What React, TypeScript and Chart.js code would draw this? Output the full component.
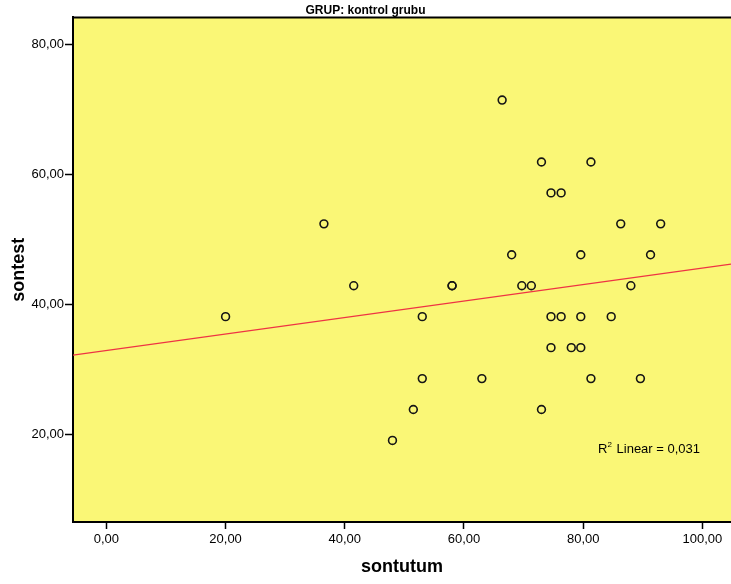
import { useEffect, useRef } from "react";
import { Chart, registerables } from "chart.js";

Chart.register(...registerables);

// Scores per student (kontrol grubu)
const sontutum = [
  20, 36.5, 41.5, 48, 51.5, 53, 53, 58, 58, 63, 66.4, 68, 69.7, 71.3, 73, 73,
  74.6, 76.3, 74.6, 76.3, 74.6, 78, 79.6, 79.6, 79.6, 81.3, 81.3, 84.7, 86.3,
  88, 89.6, 91.3, 93,
];
const sontest = [
  38.1, 52.38, 42.86, 19.05, 23.81, 38.1, 28.57, 42.86, 42.86, 28.57, 71.43,
  47.62, 42.86, 42.86, 61.9, 23.81, 57.14, 57.14, 38.1, 38.1, 33.33, 33.33,
  47.62, 38.1, 33.33, 61.9, 28.57, 38.1, 52.38, 42.86, 28.57, 47.62, 52.38,
];

const xTicks = [0, 20, 40, 60, 80, 100];
const yTicks = [20, 40, 60, 80];
const xRange = [-5.6, 104.8];
const yRange = [6.5, 84.15];

const groupTitle = "GRUP: kontrol grubu";
const xTitle = "sontutum";
const yTitle = "sontest";

const FONT = "Arial, 'Liberation Sans', sans-serif";
const PLOT_BG = "#FAF776";
const FIT_COLOR = "#ee3344";

const fmt = (v: number) => v.toFixed(2).replace(".", ",");

// Ordinary least squares fit of sontest on sontutum
function linearFit(xs: number[], ys: number[]) {
  const n = xs.length;
  const mx = xs.reduce((a, b) => a + b, 0) / n;
  const my = ys.reduce((a, b) => a + b, 0) / n;
  let sxx = 0, sxy = 0, syy = 0;
  for (let i = 0; i < n; i++) {
    const dx = xs[i] - mx;
    const dy = ys[i] - my;
    sxx += dx * dx;
    sxy += dx * dy;
    syy += dy * dy;
  }
  const slope = sxy / sxx;
  return { slope, intercept: my - slope * mx, r2: (sxy * sxy) / (sxx * syy) };
}

export default function App() {
  const ref = useRef<HTMLCanvasElement | null>(null);

  useEffect(() => {
    document.body.style.margin = "0";
    const canvas = ref.current;
    if (!canvas) return;

    const fit = linearFit(sontutum, sontest);
    const fitLine = xRange.map((x) => ({ x, y: fit.intercept + fit.slope * x }));
    const r2Text = fit.r2.toFixed(3).replace(".", ",");

    const plotDecor = {
      id: "plotDecor",
      beforeDraw(chart: any) {
        const { ctx, chartArea: a } = chart;
        ctx.save();
        ctx.fillStyle = PLOT_BG;
        ctx.fillRect(a.left, a.top, a.right - a.left, a.bottom - a.top);
        ctx.restore();
      },
      afterDraw(chart: any) {
        const { ctx, chartArea: a, scales } = chart;
        ctx.save();
        // top frame line
        ctx.strokeStyle = "#000";
        ctx.lineWidth = 2;
        ctx.beginPath();
        ctx.moveTo(a.left, a.top);
        ctx.lineTo(a.right, a.top);
        ctx.stroke();

        // R² annotation
        const x0 = scales.x.getPixelForValue(82.5);
        const y0 = scales.y.getPixelForValue(17.7);
        ctx.fillStyle = "#000";
        ctx.textBaseline = "middle";
        ctx.textAlign = "left";
        ctx.font = `13px ${FONT}`;
        ctx.fillText("R", x0, y0);
        const rw = ctx.measureText("R").width;
        ctx.font = `8px ${FONT}`;
        ctx.fillText("2", x0 + rw, y0 - 4);
        const sw = ctx.measureText("2").width;
        ctx.font = `13px ${FONT}`;
        ctx.fillText(` Linear = ${r2Text}`, x0 + rw + sw + 1, y0);
        ctx.restore();
      },
    };

    const chart = new Chart(canvas, {
      type: "scatter",
      data: {
        datasets: [
          {
            type: "line",
            label: "fit",
            data: fitLine,
            borderColor: FIT_COLOR,
            borderWidth: 1.2,
            pointRadius: 0,
            fill: false,
            order: 0,
          } as any,
          {
            label: "sontest",
            data: sontutum.map((x, i) => ({ x, y: sontest[i] })),
            pointStyle: "circle",
            pointRadius: 3.9,
            pointBorderWidth: 1.6,
            borderColor: "#151515",
            backgroundColor: "rgba(0,0,0,0)",
            order: 1,
          },
        ],
      },
      options: {
        responsive: false,
        animation: false,
        devicePixelRatio: 1,
        layout: { padding: 0, autoPadding: false },
        plugins: {
          legend: { display: false },
          tooltip: { enabled: false },
          title: {
            display: true,
            text: groupTitle,
            color: "#000",
            font: { family: FONT, size: 12, weight: "bold" },
            padding: { top: 3, bottom: 0 },
          },
        },
        scales: {
          x: {
            type: "linear",
            position: "bottom",
            min: xRange[0],
            max: xRange[1],
            afterBuildTicks: (s: any) => {
              s.ticks = xTicks.map((value) => ({ value }));
            },
            afterFit: (s: any) => {
              s.height = 62;
              s.paddingLeft = 0;
              s.paddingRight = 0;
            },
            ticks: {
              color: "#000",
              font: { family: FONT, size: 13 },
              padding: 3,
              maxRotation: 0,
              callback: (v: any) => fmt(Number(v)),
            },
            grid: {
              drawOnChartArea: false,
              drawTicks: true,
              tickLength: 7,
              tickWidth: 1.5,
              tickColor: "#000",
            },
            border: { display: true, color: "#000", width: 2 },
            title: {
              display: true,
              text: xTitle,
              color: "#000",
              font: { family: FONT, size: 18, weight: "bold" },
              padding: { top: 0, bottom: 6 },
            },
          },
          y: {
            type: "linear",
            position: "left",
            min: yRange[0],
            max: yRange[1],
            afterBuildTicks: (s: any) => {
              s.ticks = yTicks.map((value) => ({ value }));
            },
            afterFit: (s: any) => {
              s.width = 73;
              s.paddingTop = 0;
              s.paddingBottom = 0;
            },
            ticks: {
              color: "#000",
              font: { family: FONT, size: 13 },
              padding: 1,
              callback: (v: any) => fmt(Number(v)),
            },
            grid: {
              drawOnChartArea: false,
              drawTicks: true,
              tickLength: 8,
              tickWidth: 1.5,
              tickColor: "#000",
            },
            border: { display: true, color: "#000", width: 2 },
            title: {
              display: true,
              text: yTitle,
              color: "#000",
              font: { family: FONT, size: 18, weight: "bold" },
              padding: { top: 8, bottom: 0 },
            },
          },
        },
      } as any,
      plugins: [plotDecor],
    });

    return () => chart.destroy();
  }, []);

  return (
    <canvas
      ref={ref}
      width={731}
      height={584}
      style={{ display: "block", width: 731, height: 584 }}
    />
  );
}
